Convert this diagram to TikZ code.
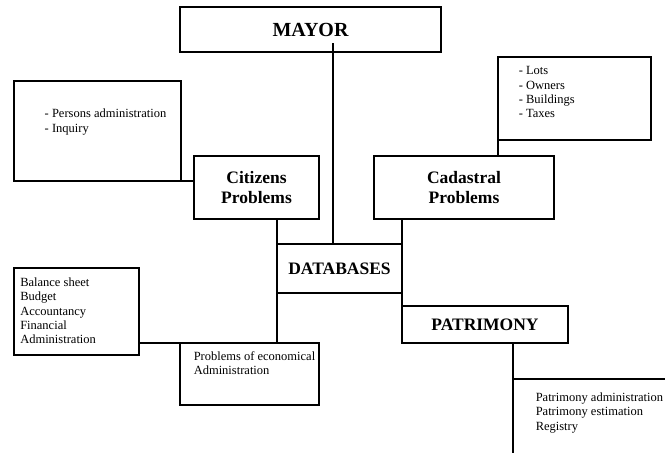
\documentclass[tikz,border=0pt]{standalone}
\usepackage{fontspec}
\setmainfont{Liberation Serif}
\usetikzlibrary{positioning}

\begin{document}
\begin{tikzpicture}[x=1pt,y=-1pt,line width=1.5pt]
\tikzstyle{head node}=[rectangle,draw,inner sep=1.5,outer sep=0,align=center,font=\bfseries\fontsize{17.5}{20.5}\selectfont]
\tikzstyle{list node}=[rectangle,draw,inner sep=0,outer sep=0]
\tikzstyle{item text}=[inner sep=0,align=left,font=\fontsize{12.5}{14.3}\selectfont]

\useasboundingbox (0,0) rectangle (665,453);
\clip (0,0) rectangle (665,453);

    \node[head node, minimum width=261, minimum height=45, font=\bfseries\fontsize{20}{24}\selectfont] (mayor) at (310.5,29.5) {MAYOR};
    \node[head node, minimum width=125, minimum height=63] (citizens) at (256.5,187.5) {Citizens\\Problems};
    \node[head node, minimum width=180, minimum height=63] (cadastral) at (464,187.5) {Cadastral\\Problems};
    \node[head node, minimum width=125, minimum height=49] (databases) at (339.5,268.5) {DATABASES};
    \node[head node, minimum width=166, minimum height=37] (patrimony) at (485,324.5) {PATRIMONY};

    \node[list node, minimum width=167, minimum height=100] (persons) at (97.5,131) {};
    \node[list node, minimum width=153, minimum height=83] (lots) at (574.5,98.5) {};
    \node[list node, minimum width=125, minimum height=87] (balance) at (76.5,311.5) {};
    \node[list node, minimum width=139, minimum height=62] (econ) at (249.5,374) {};
    \node[list node, minimum width=170, minimum height=96, anchor=north west] (patlist) at (513,379) {};

    %%%%%%%%%%%%%%%%%%%%%%%%%%
    \node[item text, font=\fontsize{12.5}{15}\selectfont] (persons items) [below right=27pt and 30pt of persons.north west] {- Persons administration\\- Inquiry};
    \node[item text] (lots items) [below right=9pt and 20pt of lots.north west] {- Lots\\- Owners\\- Buildings\\- Taxes};
    \node[item text] (balance items) [below right=9pt and 5.5pt of balance.north west] {Balance sheet\\Budget\\Accountancy\\Financial\\Administration};
    \node[item text] (econ items) [below right=8pt and 13pt of econ.north west] {Problems of economical\\Administration};
    \node[item text] (patlist items) [below right=13pt and 22pt of patlist.north west] {Patrimony administration\\Patrimony estimation\\Registry};

    \coordinate (mayor stem) at ([xshift=22.5pt,yshift=9pt]mayor.south);
    \path
        (mayor stem) edge (mayor stem |- databases.north)
        (persons.south east) edge (persons.south east -| citizens.west)
        (citizens.south -| databases.west) edge (databases.north west)
        (lots.south west) edge (lots.south west |- cadastral.north)
        (cadastral.south -| databases.east) edge (databases.north east)
        (databases.south east) edge (patrimony.north west)
        %%%%%%%%%%%%%%%%%%%%%%%%%%
        (databases.south west) edge (databases.south west |- econ.north)
        (econ.north west) edge (econ.north west -| balance.east)
        (patrimony.south -| patlist.west) edge (patlist.north west)
;
\end{tikzpicture}
\end{document}
